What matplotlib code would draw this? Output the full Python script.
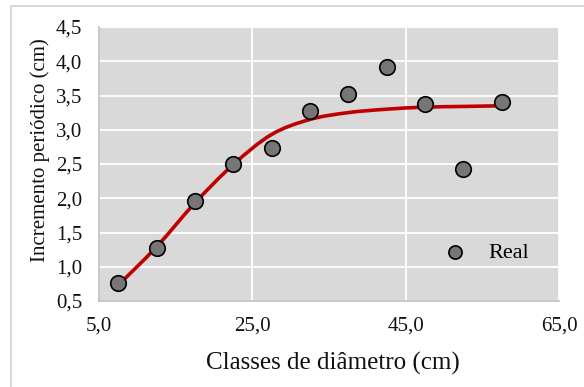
import matplotlib

matplotlib.use("Agg")
import matplotlib.pyplot as plt
import numpy as np
from matplotlib.patches import PathPatch, Rectangle
from matplotlib.path import Path
from matplotlib.ticker import FuncFormatter

# diameter class centres and observed periodic increment
classes = [7.5, 12.5, 17.5, 22.5, 27.5, 32.5, 37.5, 42.5, 47.5, 52.5, 57.5]
real = [0.77, 1.27, 1.96, 2.50, 2.73, 3.28, 3.52, 3.92, 3.37, 2.43, 3.40]
# fitted (estimated) values, drawn as an Excel-style smoothed line
fitted = [0.73, 1.29, 1.93, 2.49, 2.93, 3.15, 3.25, 3.30, 3.33, 3.34, 3.35]

x_ticks = [5, 25, 45, 65]
y_ticks = [0.5, 1.0, 1.5, 2.0, 2.5, 3.0, 3.5, 4.0, 4.5]

plt.rcParams["font.family"] = ["Liberation Serif", "DejaVu Serif"]
TXT = "#111111"


def smooth_path(xs, ys):
    pts = np.column_stack([xs, ys])
    n = len(pts)
    verts = [pts[0]]
    codes = [Path.MOVETO]
    for i in range(n - 1):
        p0 = pts[max(i - 1, 0)]
        p1 = pts[i]
        p2 = pts[i + 1]
        p3 = pts[min(i + 2, n - 1)]
        verts += [p1 + (p2 - p0) / 6, p2 - (p3 - p1) / 6, p2]
        codes += [Path.CURVE4] * 3
    return Path(verts, codes)


fig = plt.figure(figsize=(5.84, 3.87), dpi=100)
fig.patches.append(Rectangle((11 / 584, -0.1), 1.2, 1 - 6 / 387 + 0.1, transform=fig.transFigure,
                             fill=False, edgecolor="#d9d9d9", linewidth=1.5))
ax = fig.add_axes([99 / 584, 1 - 301 / 387, 460 / 584, 274 / 387])
ax.set_facecolor("#d9d9d9")

ax.add_patch(PathPatch(smooth_path(classes, fitted), facecolor="none", edgecolor="#c00000",
                       linewidth=2.6, capstyle="round", zorder=3))
ax.scatter(classes, real, s=125, color="#767676", edgecolor="black", linewidth=1.2,
           zorder=4, label="Real")

ax.set_xlim(5, 65)
ax.set_ylim(0.5, 4.5)
ax.set_xticks(x_ticks)
ax.set_yticks(y_ticks)
fmt = FuncFormatter(lambda v, _: f"{v:.1f}".replace(".", ","))
ax.xaxis.set_major_formatter(fmt)
ax.yaxis.set_major_formatter(fmt)
ax.tick_params(length=0, labelsize=15, colors=TXT)
ax.tick_params(axis="x", pad=11)
ax.tick_params(axis="y", pad=12)
ax.grid(True, color="white", linewidth=1.3)
ax.set_axisbelow(True)
for side in ["top", "right"]:
    ax.spines[side].set_visible(False)
for side in ["left", "bottom"]:
    ax.spines[side].set_color("#bfbfbf")
    ax.spines[side].set_linewidth(1.2)

ax.set_xlabel("Classes de diâmetro (cm)", fontsize=18, color=TXT)
ax.set_ylabel("Incremento periódico (cm)", fontsize=15, color=TXT)
ax.xaxis.set_label_coords((333 - 99) / 460, -(352 - 301) / 274)
ax.yaxis.set_label_coords(-(99 - 50) / 460, (301 - 150) / 274)

ax.legend(loc="center", bbox_to_anchor=((481 - 99) / 460, (301 - 253) / 274), frameon=False,
          fontsize=16, markerscale=0.85, handletextpad=0.5, borderaxespad=0)

fig.savefig("out.png", dpi=100)
